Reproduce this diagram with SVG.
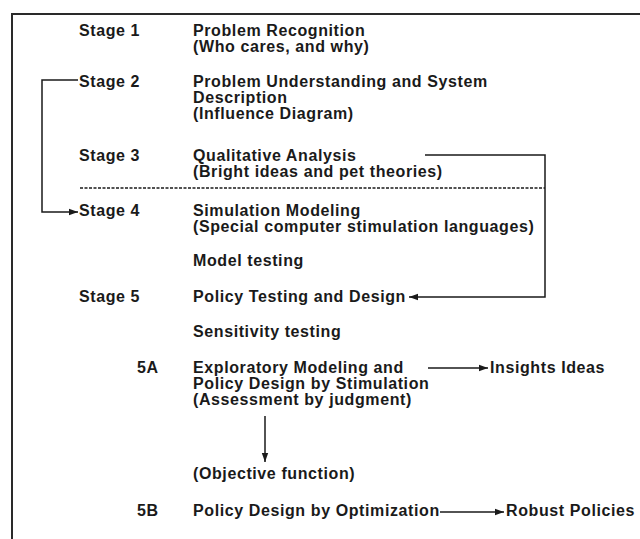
<svg xmlns="http://www.w3.org/2000/svg" width="640" height="539" viewBox="0 0 640 539">
<defs>
<style>
text{font-family:"Liberation Sans",Arial,sans-serif;font-weight:bold;font-size:16px;letter-spacing:0.6px;fill:#1a1a1a}
.ln{fill:none;stroke:#1a1a1a;stroke-width:1.5}
.frame{fill:none;stroke:#2a2a2a;stroke-width:2}
</style>
<marker id="ah" markerWidth="10" markerHeight="8" refX="9" refY="4" orient="auto" markerUnits="userSpaceOnUse">
<path d="M0,0.8 L9,4 L0,7.2 Z" fill="#1a1a1a"/>
</marker>
</defs>
<rect width="640" height="539" fill="#fff"/>
<g id="frame"><path class="frame" d="M12,539 V14 H640"/></g>
<g id="stage1"><text x="79" y="36">Stage 1</text><text x="193" y="36">Problem Recognition</text><text x="193" y="52">(Who cares, and why)</text></g>
<g id="stage2"><text x="79" y="87">Stage 2</text><text x="193" y="87">Problem Understanding and System</text><text x="193" y="103">Description</text><text x="193" y="119">(Influence Diagram)</text></g>
<g id="stage3"><text x="79" y="161">Stage 3</text><text x="193" y="161">Qualitative Analysis</text><text x="193" y="177">(Bright ideas and pet theories)</text></g>
<g id="stage4"><text x="79" y="216">Stage 4</text><text x="193" y="216">Simulation Modeling</text><text x="193" y="232">(Special computer stimulation languages)</text></g>
<g id="modeltesting"><text x="193" y="266">Model testing</text></g>
<g id="stage5"><text x="79" y="302">Stage 5</text><text x="193" y="302">Policy Testing and Design</text></g>
<g id="sensitivity"><text x="193" y="337">Sensitivity testing</text></g>
<g id="s5a"><text x="137" y="373">5A</text><text x="193" y="373">Exploratory Modeling and</text><text x="193" y="389">Policy Design by Stimulation</text><text x="193" y="405">(Assessment by judgment)</text></g>
<g id="insights"><text x="490" y="373">Insights Ideas</text></g>
<g id="objective"><text x="193" y="479">(Objective function)</text></g>
<g id="s5b"><text x="137" y="516">5B</text><text x="193" y="516">Policy Design by Optimization</text></g>
<g id="robust"><text x="506" y="516">Robust Policies</text></g>
<g id="connectors">
<path class="ln" d="M78,80 H42 V212 H78" marker-end="url(#ah)"/>
<path class="ln" d="M425,155 H545 V297 H409" marker-end="url(#ah)"/>
<path class="ln" stroke-dasharray="3,1.5" d="M80,188 H545"/>
<path class="ln" d="M428,368 H488" marker-end="url(#ah)"/>
<path class="ln" d="M265,416 V462" marker-end="url(#ah)"/>
<path class="ln" d="M440,512 H504" marker-end="url(#ah)"/>
</g>
</svg>
